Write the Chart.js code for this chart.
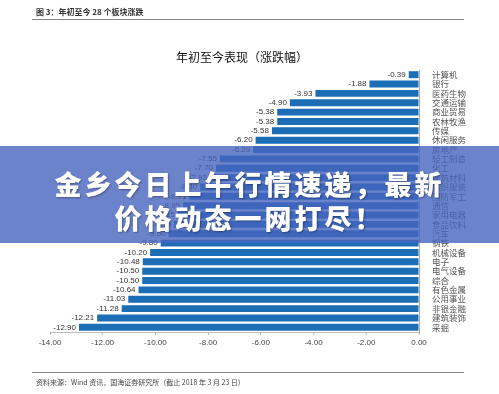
<!DOCTYPE html>
<html>
<head>
<meta charset="utf-8">
<script src="https://cdn.jsdelivr.net/npm/chart.js@4.4.1/dist/chart.umd.min.js"></script>
<style>
  html, body { margin: 0; padding: 0; background: #fff; }
  #wrap { position: relative; width: 499px; height: 394px; overflow: hidden; font-family: "Noto Sans CJK SC", "Noto Sans", sans-serif; }
  #chart { position: absolute; left: 0; top: 0; }
  .head { position: absolute; left: 36px; top: 6px; font-size: 8px; font-weight: bold; color: #333; }
  .rule { position: absolute; left: 32px; width: 432px; height: 1px; background: #888; }
  .title { position: absolute; left: 0; width: 484px; top: 48px; text-align: center; font-size: 12px; color: #111; }
  .src { position: absolute; left: 36px; top: 377px; font-size: 7px; color: #444; }
  .banner { position: absolute; left: 0; top: 146px; width: 499px; height: 97px; background: rgba(70, 100, 190, 0.8); }
  .banner div { position: absolute; left: 0; width: 499px; text-align: center; color: #fff; font-weight: 900; font-size: 27px; letter-spacing: 3px; text-shadow: 1px 1px 2px rgba(0,0,0,0.35); }
</style>
</head>
<body>
<div id="wrap">
  <canvas id="chart" width="499" height="394"></canvas>
  <div class="head">图 3：年初至今 28 个板块涨跌</div>
  <div class="rule" style="top:19px"></div>
  <div class="title">年初至今表现（涨跌幅）</div>
  <div class="rule" style="top:372px"></div>
  <div class="src">资料来源：Wind 资讯，国海证券研究所（截止 2018 年 3 月 23 日）</div>
  <div class="banner">
    <div style="top:18px">金乡今日上午行情速递，最新</div>
    <div style="top:52px">价格动态一网打尽！</div>
  </div>
</div>
<script>
// sectors, top to bottom
const sectors = ["计算机", "银行", "医药生物", "交通运输", "商业贸易", "农林牧渔", "传媒", "休闲服务",
  "房地产", "轻工制造", "化工", "建筑材料", "纺织服装", "国防军工", "通信", "家用电器",
  "食品饮料", "汽车", "钢铁", "机械设备", "电子", "电气设备", "综合", "有色金属",
  "公用事业", "非银金融", "建筑装饰", "采掘"];
// year-to-date change (%)
const changes = [-0.39, -1.88, -3.93, -4.90, -5.38, -5.38, -5.58, -6.20,
  -6.29, -7.55, -7.70, -7.93, -8.30, -8.71, -8.95, -9.15,
  -9.30, -9.50, -9.80, -10.20, -10.48, -10.50, -10.50, -10.64,
  -11.03, -11.28, -12.21, -12.90];
const xTicks = [-14, -12, -10, -8, -6, -4, -2, 0];

// value text at the end of each bar
const valueLabels = {
  id: "valueLabels",
  afterDatasetsDraw(chart) {
    const ctx = chart.ctx;
    const meta = chart.getDatasetMeta(0);
    ctx.save();
    ctx.font = "8px 'Liberation Sans', sans-serif";
    ctx.fillStyle = "#333";
    ctx.textAlign = "right";
    ctx.textBaseline = "middle";
    meta.data.forEach((bar, i) => {
      ctx.fillText(changes[i].toFixed(2), bar.x - 3, bar.y);
    });
    ctx.restore();
  }
};

new Chart(document.getElementById("chart"), {
  type: "bar",
  data: {
    labels: sectors,
    datasets: [{
      data: changes,
      backgroundColor: "#1b6db5",
      barPercentage: 0.74,
      categoryPercentage: 1
    }]
  },
  options: {
    indexAxis: "y",
    responsive: false,
    animation: false,
    layout: { padding: { left: 50, right: 30, top: 70, bottom: 42 } },
    plugins: { legend: { display: false }, tooltip: { enabled: false } },
    scales: {
      x: {
        min: -14, max: 0,
        afterBuildTicks: s => { s.ticks = xTicks.map(v => ({ value: v })); },
        afterFit: s => { s.height = 20; },
        grid: { display: true, drawOnChartArea: false, drawTicks: true, tickLength: 3, color: "#bbb" },
        border: { color: "#bbb" },
        ticks: {
          color: "#444", font: { size: 8, family: "'Liberation Sans', sans-serif" }, padding: 3,
          callback: v => v.toFixed(2)
        }
      },
      y: {
        position: "right",
        afterFit: s => { s.width = 50; },
        grid: { display: false },
        border: { color: "#aaa" },
        ticks: { color: "#555", font: { size: 8.5, family: "'Noto Sans CJK SC', sans-serif" }, padding: 5, autoSkip: false }
      }
    }
  },
  plugins: [valueLabels]
});
</script>
</body>
</html>
